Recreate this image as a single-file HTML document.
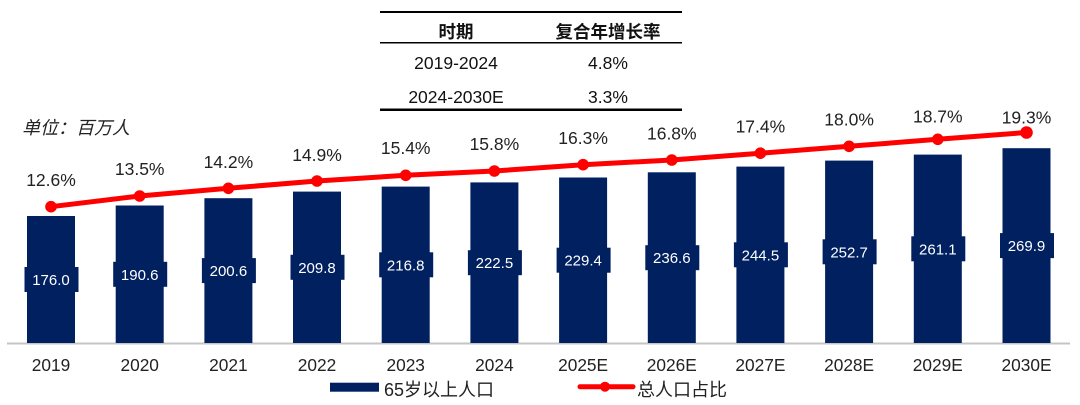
<!DOCTYPE html>
<html><head><meta charset="utf-8"><style>
html,body{margin:0;padding:0;background:#fff;}
svg{display:block;}
text{font-family:"Liberation Sans","Noto Sans CJK SC",sans-serif;}
</style></head><body>
<svg width="1080" height="405" viewBox="0 0 1080 405" xmlns="http://www.w3.org/2000/svg">
<!-- table -->
<line x1="380" y1="12" x2="682" y2="12" stroke="#000" stroke-width="2"/>
<line x1="380" y1="42.7" x2="682" y2="42.7" stroke="#000" stroke-width="1.5"/>
<line x1="380" y1="109.7" x2="682" y2="109.7" stroke="#000" stroke-width="2.5"/>
<g font-size="17.5" fill="#111" text-anchor="middle">
<text x="456" y="38" font-weight="bold">时期</text>
<text x="608" y="38" font-weight="bold">复合年增长率</text>
<text x="456" y="69">2019-2024</text>
<text x="608" y="69">4.8%</text>
<text x="456" y="103">2024-2030E</text>
<text x="608" y="103">3.3%</text>
</g>
<text x="22" y="134" font-size="18" font-style="italic" fill="#222">单位：百万人</text>
<!-- axis -->
<line x1="7" y1="343.5" x2="1070" y2="343.5" stroke="#c4c4c4" stroke-width="2"/>
<!-- bars -->
<g fill="#002060">
<rect x="27" y="216.0" width="48" height="127"/>
<rect x="115.7" y="205.5" width="48" height="137.5"/>
<rect x="204.4" y="198.2" width="48" height="144.8"/>
<rect x="293" y="191.6" width="48" height="151.4"/>
<rect x="381.7" y="186.6" width="48" height="156.4"/>
<rect x="470.4" y="182.4" width="48" height="160.6"/>
<rect x="559.1" y="177.5" width="48" height="165.5"/>
<rect x="647.8" y="172.3" width="48" height="170.7"/>
<rect x="736.4" y="166.6" width="48" height="176.4"/>
<rect x="825.1" y="160.6" width="48" height="182.4"/>
<rect x="913.8" y="154.6" width="48" height="188.4"/>
<rect x="1002.5" y="148.2" width="48" height="194.8"/>
</g>
<g fill="#002060">
<rect x="24.5" y="267" width="54" height="25"/>
<rect x="113.2" y="261.8" width="54" height="25"/>
<rect x="201.9" y="258.1" width="54" height="25"/>
<rect x="290.5" y="254.8" width="54" height="25"/>
<rect x="379.2" y="252.3" width="54" height="25"/>
<rect x="467.9" y="250.2" width="54" height="25"/>
<rect x="556.6" y="247.7" width="54" height="25"/>
<rect x="645.3" y="245.2" width="54" height="25"/>
<rect x="733.9" y="242.3" width="54" height="25"/>
<rect x="822.6" y="239.3" width="54" height="25"/>
<rect x="911.3" y="236.3" width="54" height="25"/>
<rect x="1000" y="233.1" width="54" height="25"/>
</g>
<g font-size="15" fill="#fff" text-anchor="middle">
<text x="51" y="285">176.0</text>
<text x="139.7" y="279.8">190.6</text>
<text x="228.4" y="276.1">200.6</text>
<text x="317" y="272.8">209.8</text>
<text x="405.7" y="270.3">216.8</text>
<text x="494.4" y="268.2">222.5</text>
<text x="583.1" y="265.7">229.4</text>
<text x="671.8" y="263.2">236.6</text>
<text x="760.4" y="260.3">244.5</text>
<text x="849.1" y="257.3">252.7</text>
<text x="937.8" y="254.3">261.1</text>
<text x="1026.5" y="251.1">269.9</text>
</g>
<!-- line -->
<polyline fill="none" stroke="#ff0000" stroke-width="5" stroke-linejoin="round"
points="51,206.7 139.7,196 228.4,188.3 317,181 405.7,175.3 494.4,171 583.1,164.7 671.8,160 760.4,153.2 849.1,146.3 937.8,139.3 1026.5,132.5"/>
<g fill="#ff0000">
<circle cx="51" cy="206.7" r="5.8"/>
<circle cx="139.7" cy="196" r="5.8"/>
<circle cx="228.4" cy="188.3" r="5.8"/>
<circle cx="317" cy="181" r="5.8"/>
<circle cx="405.7" cy="175.3" r="5.8"/>
<circle cx="494.4" cy="171" r="5.8"/>
<circle cx="583.1" cy="164.7" r="5.8"/>
<circle cx="671.8" cy="160" r="5.8"/>
<circle cx="760.4" cy="153.2" r="5.8"/>
<circle cx="849.1" cy="146.3" r="5.8"/>
<circle cx="937.8" cy="139.3" r="5.8"/>
<circle cx="1026.5" cy="132.5" r="6.3"/>
</g>
<g font-size="17.5" fill="#222" text-anchor="middle">
<text x="51" y="186">12.6%</text>
<text x="139.7" y="175">13.5%</text>
<text x="228.4" y="168">14.2%</text>
<text x="317" y="161">14.9%</text>
<text x="405.7" y="154">15.4%</text>
<text x="494.4" y="150">15.8%</text>
<text x="583.1" y="144">16.3%</text>
<text x="671.8" y="139.3">16.8%</text>
<text x="760.4" y="132.7">17.4%</text>
<text x="849.1" y="125.3">18.0%</text>
<text x="937.8" y="122.7">18.7%</text>
<text x="1026.5" y="123.3">19.3%</text>
</g>
<!-- x labels -->
<g font-size="17.3" fill="#222" text-anchor="middle">
<text x="51" y="371">2019</text>
<text x="139.7" y="371">2020</text>
<text x="228.4" y="371">2021</text>
<text x="317" y="371">2022</text>
<text x="405.7" y="371">2023</text>
<text x="494.4" y="371">2024</text>
<text x="583.1" y="371">2025E</text>
<text x="671.8" y="371">2026E</text>
<text x="760.4" y="371">2027E</text>
<text x="849.1" y="371">2028E</text>
<text x="937.8" y="371">2029E</text>
<text x="1026.5" y="371">2030E</text>
</g>
<!-- legend -->
<rect x="330" y="382.7" width="49" height="9" fill="#002060"/>
<text x="384" y="396" font-size="18" fill="#222">65岁以上人口</text>
<line x1="580" y1="386.7" x2="633" y2="386.7" stroke="#ff0000" stroke-width="5" stroke-linecap="round"/>
<circle cx="605" cy="386.7" r="5" fill="#ff0000"/>
<text x="637" y="396" font-size="18" fill="#222">总人口占比</text>
</svg>
</body></html>
